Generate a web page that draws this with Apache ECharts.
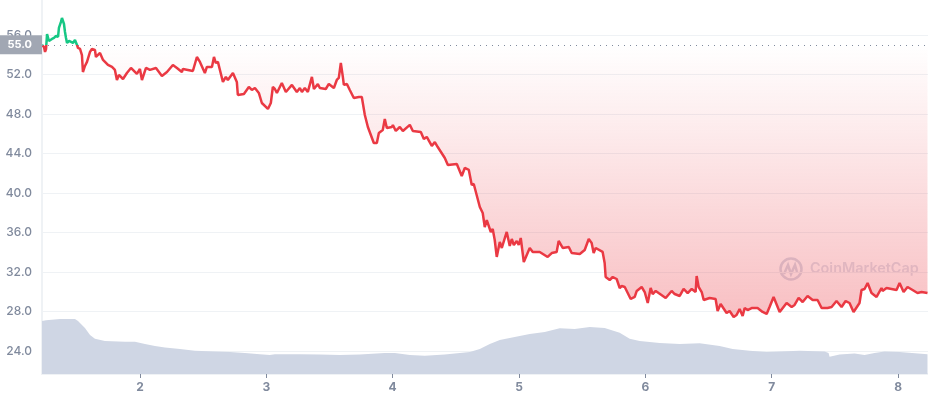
<!DOCTYPE html>
<html>
<head>
<meta charset="utf-8">
<title>Price chart</title>
<script src="https://cdn.jsdelivr.net/npm/echarts@6/dist/echarts.min.js"></script>
<style>
  html, body { margin: 0; padding: 0; background: #fff; }
  #main { width: 928px; height: 400px; }
</style>
</head>
<body>
<div id="main"></div>
<script>
// tick labels
var dayTicks = [2, 3, 4, 5, 6, 7, 8];
var priceTicks = [24, 28, 32, 36, 40, 44, 48, 52, 56];
var basePrice = 55;

// price line
var priceDays = [
  1.225, 1.241, 1.249, 1.257, 1.265, 1.280, 1.288, 1.304, 1.320, 1.336, 1.352, 1.359, 1.375, 1.383, 1.399, 1.407,
  1.415, 1.423, 1.439, 1.454, 1.470, 1.486, 1.502, 1.510, 1.526, 1.541, 1.549, 1.565, 1.581, 1.605, 1.620, 1.644,
  1.652, 1.684, 1.708, 1.747, 1.779, 1.802, 1.818, 1.834, 1.866, 1.897, 1.929, 1.976, 2.000, 2.016, 2.048, 2.079,
  2.127, 2.174, 2.214, 2.261, 2.293, 2.332, 2.340, 2.419, 2.451, 2.475, 2.514, 2.530, 2.570, 2.586, 2.601, 2.617,
  2.657, 2.680, 2.696, 2.736, 2.767, 2.775, 2.823, 2.862, 2.886, 2.910, 2.941, 2.965, 3.013, 3.036, 3.052, 3.068,
  3.084, 3.123, 3.155, 3.203, 3.242, 3.266, 3.282, 3.305, 3.329, 3.361, 3.377, 3.408, 3.424, 3.471, 3.495, 3.535,
  3.558, 3.574, 3.590, 3.606, 3.614, 3.638, 3.661, 3.693, 3.733, 3.756, 3.780, 3.804, 3.851, 3.875, 3.891, 3.922,
  3.938, 3.954, 3.994, 4.002, 4.025, 4.057, 4.081, 4.136, 4.160, 4.223, 4.247, 4.270, 4.310, 4.334, 4.357, 4.413,
  4.437, 4.508, 4.547, 4.571, 4.603, 4.626, 4.642, 4.690, 4.713, 4.729, 4.745, 4.777, 4.792, 4.808, 4.824, 4.848,
  4.864, 4.903, 4.927, 4.943, 4.959, 4.982, 4.998, 5.014, 5.038, 5.085, 5.109, 5.164, 5.227, 5.259, 5.298, 5.314,
  5.346, 5.394, 5.417, 5.481, 5.520, 5.552, 5.575, 5.591, 5.607, 5.662, 5.678, 5.686, 5.718, 5.742, 5.773, 5.797,
  5.813, 5.837, 5.884, 5.916, 5.932, 5.971, 5.995, 6.019, 6.042, 6.058, 6.082, 6.105, 6.161, 6.208, 6.232, 6.272,
  6.303, 6.335, 6.367, 6.398, 6.406, 6.422, 6.446, 6.462, 6.509, 6.556, 6.572, 6.596, 6.643, 6.667, 6.699, 6.722,
  6.746, 6.770, 6.786, 6.809, 6.841, 6.888, 6.928, 6.960, 6.983, 7.015, 7.063, 7.118, 7.158, 7.181, 7.213, 7.245,
  7.284, 7.324, 7.363, 7.395, 7.442, 7.474, 7.513, 7.553, 7.585, 7.616, 7.648, 7.695, 7.711, 7.735, 7.759, 7.790,
  7.830, 7.869, 7.877, 7.909, 7.988, 8.012, 8.044, 8.075, 8.115, 8.154, 8.186, 8.233
];
var priceValues = [
  54.99, 54.78, 54.28, 54.58, 56.10, 55.39, 55.19, 55.60, 55.70, 55.90, 55.80, 56.71, 57.32, 57.72, 57.11, 56.30,
  55.70, 55.19, 55.39, 55.29, 55.19, 55.49, 54.99, 54.68, 54.58, 53.97, 52.25, 52.86, 53.27, 54.28, 54.58, 54.48,
  53.77, 54.18, 53.47, 52.96, 52.76, 52.46, 51.44, 51.95, 51.54, 52.15, 52.66, 52.05, 52.56, 51.44, 52.66, 52.46,
  52.66, 51.85, 52.25, 52.96, 52.66, 52.25, 52.56, 52.35, 53.77, 53.27, 52.15, 52.76, 52.76, 53.77, 53.16, 53.27,
  51.24, 51.75, 51.44, 52.15, 51.24, 49.92, 50.03, 50.73, 50.43, 50.63, 50.13, 49.11, 48.51, 49.11, 50.73, 50.53,
  50.13, 51.14, 50.23, 50.94, 50.23, 50.63, 50.23, 50.63, 50.23, 51.75, 50.53, 51.04, 50.63, 50.53, 51.04, 50.63,
  51.44, 51.65, 53.16, 51.75, 50.94, 51.04, 50.43, 49.62, 49.72, 49.72, 47.90, 46.68, 45.06, 45.06, 46.08, 46.38,
  47.49, 46.58, 46.68, 46.89, 46.28, 46.68, 46.28, 46.89, 46.28, 46.18, 45.47, 45.67, 44.76, 45.16, 44.65, 43.54,
  42.83, 42.94, 41.72, 42.53, 42.33, 40.81, 40.91, 38.58, 37.97, 36.55, 37.26, 36.05, 36.35, 35.24, 33.52, 35.04,
  34.43, 36.05, 34.63, 35.34, 34.73, 35.14, 34.73, 35.44, 33.01, 34.43, 34.03, 34.03, 33.52, 33.92, 34.03, 35.14,
  34.43, 34.53, 33.92, 33.82, 34.23, 35.34, 34.94, 33.92, 34.43, 34.03, 32.91, 31.49, 31.19, 31.49, 31.29, 30.38,
  30.58, 30.48, 29.27, 29.47, 30.08, 30.48, 29.97, 28.86, 30.38, 29.77, 30.08, 29.87, 29.37, 30.08, 29.77, 29.57,
  30.28, 29.87, 30.28, 29.97, 31.59, 30.48, 29.97, 29.16, 29.37, 29.27, 28.05, 28.76, 27.85, 28.05, 27.44, 27.64,
  28.25, 27.54, 28.35, 28.15, 28.35, 28.35, 27.95, 27.75, 28.46, 29.47, 27.95, 28.86, 28.46, 28.66, 29.37, 28.96,
  29.57, 29.16, 29.16, 28.35, 28.35, 28.46, 29.06, 28.46, 29.06, 28.86, 27.95, 28.86, 30.18, 30.28, 30.89, 29.87,
  29.47, 30.38, 30.08, 30.38, 30.18, 30.89, 29.97, 30.48, 30.18, 29.87, 29.97, 29.87
];

// volume, in percent of the volume axis
var volumeDays = [
  1.225, 1.257, 1.367, 1.486, 1.510, 1.565, 1.605, 1.644, 1.723, 1.882, 1.961, 2.040, 2.119, 2.198, 2.317, 2.435,
  2.593, 2.712, 2.831, 2.949, 3.028, 3.068, 3.266, 3.424, 3.582, 3.740, 3.938, 4.017, 4.136, 4.255, 4.413, 4.611,
  4.690, 4.769, 4.848, 4.966, 5.085, 5.204, 5.322, 5.441, 5.560, 5.678, 5.797, 5.876, 5.955, 6.113, 6.272, 6.430,
  6.588, 6.691, 6.825, 6.960, 7.221, 7.419, 7.450, 7.458, 7.537, 7.656, 7.735, 7.814, 7.893, 8.012, 8.233
];
var volumeValues = [
  14.2, 14.4, 14.7, 14.7, 14.2, 12.3, 10.4, 9.4, 8.8, 8.6, 8.6, 8.0, 7.5, 7.1, 6.7, 6.2,
  6.0, 5.9, 5.6, 5.3, 5.1, 5.3, 5.3, 5.2, 5.1, 5.2, 5.6, 5.6, 5.1, 4.9, 5.2, 5.9,
  6.7, 8.0, 9.1, 9.9, 10.7, 11.2, 12.2, 12.0, 12.6, 12.3, 11.0, 9.4, 8.8, 8.3, 8.0, 8.2,
  7.5, 6.7, 6.2, 5.9, 6.2, 6.0, 5.6, 4.6, 5.2, 5.5, 5.1, 5.6, 6.0, 5.9, 5.3
];

function zip(xs, ys) {
  return xs.map(function (x, i) { return [x, ys[i]]; });
}

var myChart = echarts.init(document.getElementById('main'));

myChart.setOption({
  animation: false,
  textStyle: { fontFamily: 'Inter' },
  grid: { left: 42, right: 0, top: 0, bottom: 26 },
  xAxis: {
    type: 'value',
    min: 1.225,
    max: 8.237,
    axisLine: { show: true, onZero: false, lineStyle: { color: '#eff2f5', width: 2 } },
    axisTick: { show: true, customValues: dayTicks, length: 4, lineStyle: { color: '#808a9d' } },
    axisLabel: { customValues: dayTicks, color: '#808a9d', fontSize: 12, fontWeight: 700, margin: 7, formatter: '{value}' },
    splitLine: { show: false }
  },
  yAxis: [
    {
      type: 'value',
      min: 21.67,
      max: 59.54,
      axisLine: { show: true, lineStyle: { color: '#eff2f5', width: 2 } },
      axisTick: { show: false, customValues: priceTicks },
      axisLabel: {
        customValues: priceTicks,
        color: '#808a9d',
        fontSize: 12,
        fontWeight: 500,
        margin: 10,
        formatter: function (v) { return v.toFixed(1); }
      },
      splitLine: { show: true, lineStyle: { color: '#eff2f5', width: 1 } }
    },
    { type: 'value', min: 0, max: 100, show: false, splitLine: { show: false } }
  ],
  visualMap: {
    show: false,
    type: 'piecewise',
    seriesIndex: 1,
    dimension: 1,
    pieces: [
      { gt: basePrice, lte: 100, color: '#16c784' },
      { gt: 0, lte: basePrice, color: '#ea3943' }
    ]
  },
  graphic: [
    {
      type: 'group',
      left: 778,
      top: 256,
      silent: true,
      children: [
        { type: 'circle', shape: { cx: 12, cy: 12, r: 10.5 }, style: { fill: 'none', stroke: '#cfd6e4', lineWidth: 2.5, opacity: 0.85 } },
        { type: 'polyline', shape: { points: [[5, 17], [9, 8], [12, 17], [16, 8], [18, 15]] }, style: { fill: 'none', stroke: '#cfd6e4', lineWidth: 2.5, opacity: 0.85 } },
        { type: 'text', x: 31, y: 5, style: { text: 'CoinMarketCap', fill: '#cfd6e4', font: '600 14.4px Inter', opacity: 0.7 } }
      ]
    }
  ],
  series: [
    {
      name: 'volume',
      type: 'line',
      yAxisIndex: 1,
      symbol: 'none',
      lineStyle: { width: 0 },
      itemStyle: { color: '#cfd6e4' },
      areaStyle: { color: '#cfd6e4', opacity: 1 },
      data: zip(volumeDays, volumeValues)
    },
    {
      name: 'price',
      type: 'line',
      symbol: 'none',
      lineStyle: { width: 2.5 },
      areaStyle: {
        origin: basePrice,
        opacity: 1,
        color: new echarts.graphic.LinearGradient(0, 0, 0, 1, [
          { offset: 0, color: 'rgba(234,57,67,0)' },
          { offset: 0.09, color: 'rgba(234,57,67,0)' },
          { offset: 1, color: 'rgba(234,57,67,0.32)' }
        ])
      },
      data: zip(priceDays, priceValues),
      markLine: {
        silent: true,
        symbol: 'none',
        precision: 1,
        lineStyle: { type: [1, 5], color: '#808a9d', width: 1 },
        label: {
          position: 'start',
          distance: 0,
          formatter: '55.0',
          color: '#fff',
          fontSize: 11,
          fontWeight: 700,
          backgroundColor: '#a1a7b3',
          padding: [5, 10, 3, 8]
        },
        data: [{ yAxis: basePrice }]
      }
    }
  ]
});
</script>
</body>
</html>
